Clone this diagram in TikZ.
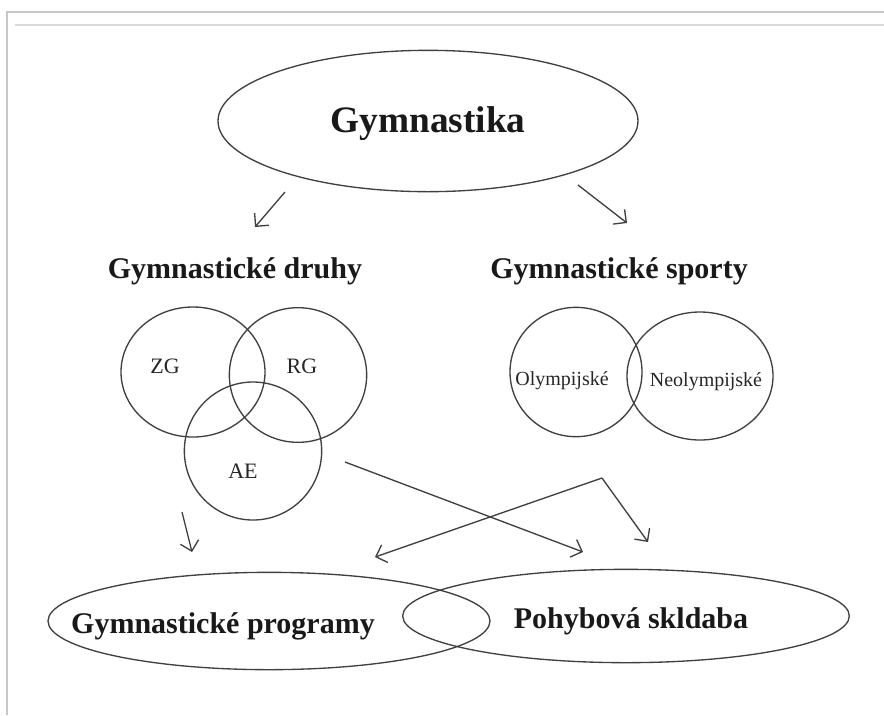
\documentclass[tikz,border=0pt]{standalone}
\usepackage{fontspec}
\setmainfont{Liberation Serif}
\usetikzlibrary{shapes.geometric,arrows.meta}
\begin{document}
\begin{tikzpicture}[x=0.75pt,y=-0.75pt,
  shp/.style={draw=black!75,line width=1pt,ellipse,inner sep=0pt},
  arr/.style={draw=black!75,line width=1pt,-{Straight Barb[length=7pt,width=14pt]}},
  big/.style={font=\fontsize{28}{32}\selectfont\bfseries,anchor=base,text=black!90,inner sep=0pt},
  lbl/.style={font=\fontsize{22.5}{26}\selectfont\bfseries,anchor=base,text=black!90,inner sep=0pt},
  sm/.style={font=\fontsize{16.5}{19}\selectfont,anchor=base,text=black!85,inner sep=0pt},
  xs/.style={font=\fontsize{15}{17}\selectfont,anchor=base,text=black!85,inner sep=0pt}]
\useasboundingbox (0,0) rectangle (884,715);
\fill[white] (0,0) rectangle (884,715);
\draw[black!22,line width=1pt] (7,715) -- (7,12) -- (884,12);
\draw[black!15,line width=1pt] (15,25) -- (884,25);

% top
\node[shp,minimum width=315pt,minimum height=106pt] (top) at (428,121) {};
\node[big] (ttop) at (428,132) {Gymnastika};

% headings
\node[lbl] (hdruhy) at (235,278) {Gymnastické druhy};
\node[lbl] (hsport) at (619,278) {Gymnastické sporty};

% venn left
\node[shp,minimum width=108pt,minimum height=97.5pt] (zg) at (193,372) {};
\node[shp,minimum width=103pt,minimum height=101pt] (rg) at (298,375) {};
\node[shp,minimum width=103pt,minimum height=103.5pt] (ae) at (253,451) {};
\node[sm] (tzg) at (165,373) {ZG};
\node[sm] (trg) at (302,373) {RG};
\node[sm] (tae) at (243,478) {AE};

% venn right
\node[shp,minimum width=99pt,minimum height=97pt] (oly) at (576,372) {};
\node[shp,minimum width=109.5pt,minimum height=96pt] (neo) at (700,376) {};
\node[xs] (toly) at (562,385) {Olympijské};
\node[xs] (tneo) at (706,386) {Neolympijské};

% bottom
\node[shp,minimum width=331.5pt,minimum height=73pt] (gp) at (269,621) {};
\node[shp,minimum width=335pt,minimum height=70pt] (ps) at (626,616) {};
\node[lbl] (tgp) at (223,633) {Gymnastické programy};
\node[lbl] (tps) at (631,628) {Pohybová skldaba};

% arrow coordinates
\coordinate (a1s) at (285,192);
\coordinate (a1e) at (255,227);
\coordinate (a2s) at (578,185);
\coordinate (a2e) at (627,223);
\coordinate (a3s) at (182,512);
\coordinate (a3e) at (192,552);
\coordinate (a4s) at (345,462);
\coordinate (a4e) at (583,552);
\coordinate (corner) at (602,478);
\coordinate (a5e) at (375,557);
\coordinate (a6e) at (648,542);

\draw[arr] (a1s) -- (a1e);
\draw[arr] (a2s) -- (a2e);
\draw[arr] (a3s) -- (a3e);
\draw[arr] (a4s) -- (a4e);
\draw[arr] (corner) -- (a5e);
\draw[arr] (corner) -- (a6e);
\end{tikzpicture}
\end{document}
